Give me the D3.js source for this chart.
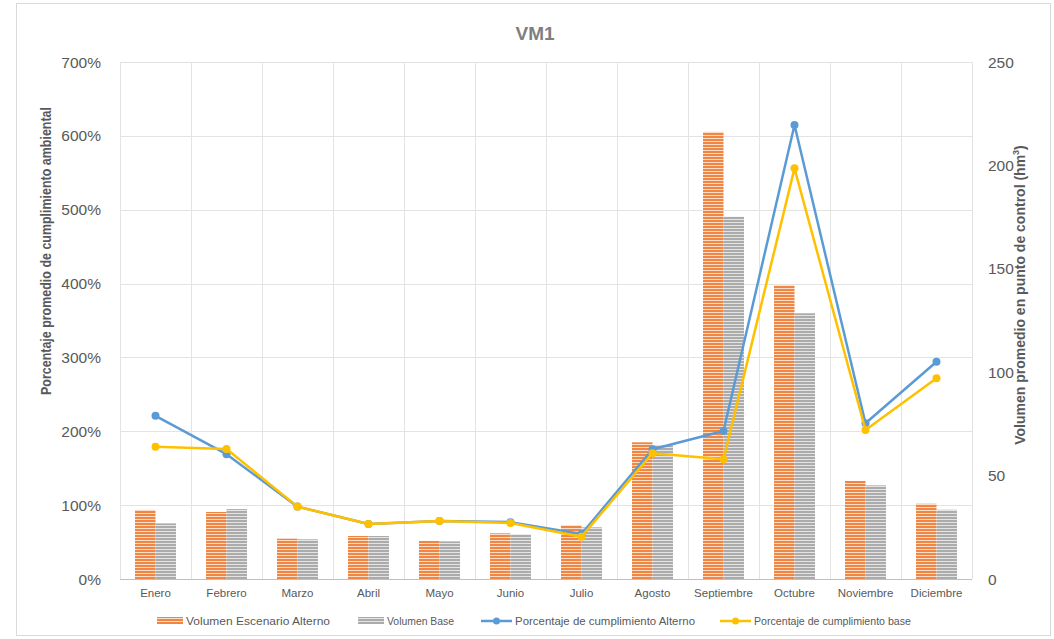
<!DOCTYPE html>
<html>
<head>
<meta charset="utf-8">
<script src="https://cdn.jsdelivr.net/npm/d3@7"></script>
<style>
  body { margin: 0; background: #fff; }
  svg { display: block; font-family: "Liberation Sans", Arial, sans-serif; }
</style>
</head>
<body>
<div id="chart"></div>
<script>
const meses = ["Enero", "Febrero", "Marzo", "Abril", "Mayo", "Junio", "Julio", "Agosto", "Septiembre", "Octubre", "Noviembre", "Diciembre"];
const volAlterno = [33.4, 32.4, 19.5, 20.8, 18.4, 22.1, 26.0, 66.1, 216.2, 142.0, 47.4, 36.4];
const volBase = [26.9, 33.8, 19.2, 20.8, 18.2, 21.6, 25.0, 64.5, 175.2, 128.5, 45.3, 33.5];
const pctAlterno = [2.21, 1.69, 0.98, 0.745, 0.785, 0.77, 0.61, 1.756, 2.004, 6.147, 2.108, 2.942];
const pctBase = [1.79, 1.76, 0.98, 0.745, 0.785, 0.758, 0.573, 1.702, 1.62, 5.56, 2.017, 2.717];
const pctTicks = [0, 1, 2, 3, 4, 5, 6, 7];
const volTicks = [0, 50, 100, 150, 200, 250];

const W = 1054, H = 639;
const m = {left: 120, right: 972, top: 62, bottom: 579};

const svg = d3.select("#chart").append("svg")
    .attr("width", W)
    .attr("height", H);

// patrones de rayas horizontales
const defs = svg.append("defs");
const mkPattern = (id, base, light) => {
    const p = defs.append("pattern")
        .attr("id", id)
        .attr("patternUnits", "userSpaceOnUse")
        .attr("width", 8)
        .attr("height", 3);
    p.append("rect").attr("width", 8).attr("height", 3).attr("fill", base);
    p.append("rect").attr("width", 8).attr("height", 1).attr("fill", light);
};
mkPattern("patOrange", "#EF8644", "#FBDCC6");
mkPattern("patGray", "#ABABAB", "#E4E4E4");

// borde
svg.append("rect")
    .attr("x", 16.5).attr("y", 3.5)
    .attr("width", 1034).attr("height", 632)
    .attr("fill", "#fff")
    .attr("stroke", "#d9d9d9");

const x = d3.scaleBand().domain(meses).range([m.left, m.right]);
const yPct = d3.scaleLinear().domain([0, 7]).range([m.bottom, m.top]);
const yVol = d3.scaleLinear().domain([0, 250]).range([m.bottom, m.top]);

// rejilla
svg.append("g").selectAll("line")
    .data(pctTicks.slice(1))
    .enter().append("line")
    .attr("x1", m.left).attr("x2", m.right)
    .attr("y1", d => Math.round(yPct(d)) + 0.5)
    .attr("y2", d => Math.round(yPct(d)) + 0.5)
    .attr("stroke", "#e3e3e3");

svg.append("g").selectAll("line")
    .data(meses.concat(["__end"]))
    .enter().append("line")
    .attr("x1", (d, i) => Math.round(m.left + i * x.bandwidth()) + 0.5)
    .attr("x2", (d, i) => Math.round(m.left + i * x.bandwidth()) + 0.5)
    .attr("y1", m.top).attr("y2", m.bottom)
    .attr("stroke", "#e3e3e3");

// barras
const bw = 20.5;
svg.append("g").selectAll("rect")
    .data(volAlterno)
    .enter().append("rect")
    .attr("x", (d, i) => x(meses[i]) + x.bandwidth() / 2 - bw)
    .attr("y", d => yVol(d))
    .attr("width", bw)
    .attr("height", d => m.bottom - yVol(d))
    .attr("fill", "url(#patOrange)");

svg.append("g").selectAll("rect")
    .data(volBase)
    .enter().append("rect")
    .attr("x", (d, i) => x(meses[i]) + x.bandwidth() / 2)
    .attr("y", d => yVol(d))
    .attr("width", bw)
    .attr("height", d => m.bottom - yVol(d))
    .attr("fill", "url(#patGray)");

// eje x
svg.append("line")
    .attr("x1", m.left).attr("x2", m.right)
    .attr("y1", m.bottom + 0.5).attr("y2", m.bottom + 0.5)
    .attr("stroke", "#bfbfbf");

svg.append("g").selectAll("text")
    .data(meses)
    .enter().append("text")
    .attr("x", d => x(d) + x.bandwidth() / 2)
    .attr("y", 597)
    .attr("text-anchor", "middle")
    .attr("font-size", 11.5)
    .attr("fill", "#595959")
    .text(d => d);

// lineas
const line = d3.line()
    .x((d, i) => x(meses[i]) + x.bandwidth() / 2)
    .y(d => yPct(d));

const series = [
    {vals: pctAlterno, color: "#5B9BD5"},
    {vals: pctBase, color: "#FFC000"}
];
series.forEach(s => {
    svg.append("path")
        .datum(s.vals)
        .attr("d", line)
        .attr("fill", "none")
        .attr("stroke", s.color)
        .attr("stroke-width", 2.5)
        .attr("stroke-linejoin", "round");
    svg.append("g").selectAll("circle")
        .data(s.vals)
        .enter().append("circle")
        .attr("cx", (d, i) => x(meses[i]) + x.bandwidth() / 2)
        .attr("cy", d => yPct(d))
        .attr("r", 4)
        .attr("fill", s.color);
});

// ejes y
svg.append("g").selectAll("text")
    .data(pctTicks)
    .enter().append("text")
    .attr("x", 101)
    .attr("y", d => yPct(d) + 5.5)
    .attr("text-anchor", "end")
    .attr("font-size", 15.5)
    .attr("fill", "#595959")
    .text(d => d3.format(".0%")(d));

svg.append("g").selectAll("text")
    .data(volTicks)
    .enter().append("text")
    .attr("x", 988)
    .attr("y", d => yVol(d) + 5.5)
    .attr("text-anchor", "start")
    .attr("font-size", 15.5)
    .attr("fill", "#595959")
    .text(d => d);

// titulos
svg.append("text")
    .attr("x", 535).attr("y", 40)
    .attr("text-anchor", "middle")
    .attr("font-size", 19)
    .attr("font-weight", "bold")
    .attr("fill", "#7f7f7f")
    .text("VM1");

svg.append("text")
    .attr("transform", "translate(51,251) rotate(-90)")
    .attr("text-anchor", "middle")
    .attr("font-size", 15)
    .attr("font-weight", "bold")
    .attr("fill", "#595959")
    .attr("textLength", 288)
    .attr("lengthAdjust", "spacingAndGlyphs")
    .text("Porcentaje promedio  de cumplimiento ambiental");

const rt = svg.append("text")
    .attr("transform", "translate(1025,295) rotate(-90)")
    .attr("text-anchor", "middle")
    .attr("font-size", 14)
    .attr("font-weight", "bold")
    .attr("fill", "#595959");
rt.append("tspan").text("Volumen promedio en punto de control (hm");
rt.append("tspan").attr("font-size", 9).attr("dy", -6).text("3");
rt.append("tspan").attr("dy", 6).text(")");

// leyenda
const legend = [
    {label: "Volumen Escenario Alterno", type: "bar", fill: "url(#patOrange)", x: 157, tl: 144},
    {label: "Volumen Base", type: "bar", fill: "url(#patGray)", x: 358, tl: 67},
    {label: "Porcentaje de cumplimiento Alterno", type: "line", fill: "#5B9BD5", x: 481, tl: 180},
    {label: "Porcentaje de cumplimiento base", type: "line", fill: "#FFC000", x: 720, tl: 157}
];
const lg = svg.append("g").selectAll("g")
    .data(legend)
    .enter().append("g")
    .attr("transform", d => `translate(${d.x},621)`);
lg.filter(d => d.type === "bar").append("rect")
    .attr("x", 0).attr("y", -4)
    .attr("width", 26).attr("height", 7)
    .attr("fill", d => d.fill);
lg.filter(d => d.type === "line").append("line")
    .attr("x1", 0).attr("x2", 31)
    .attr("y1", 0).attr("y2", 0)
    .attr("stroke", d => d.fill)
    .attr("stroke-width", 2.5);
lg.filter(d => d.type === "line").append("circle")
    .attr("cx", 15.5).attr("cy", 0).attr("r", 3.5)
    .attr("fill", d => d.fill);
lg.append("text")
    .attr("x", d => d.type === "bar" ? 29 : 34)
    .attr("y", 4)
    .attr("font-size", 11)
    .attr("fill", "#595959")
    .attr("textLength", d => d.tl)
    .attr("lengthAdjust", "spacingAndGlyphs")
    .text(d => d.label);
</script>
</body>
</html>
